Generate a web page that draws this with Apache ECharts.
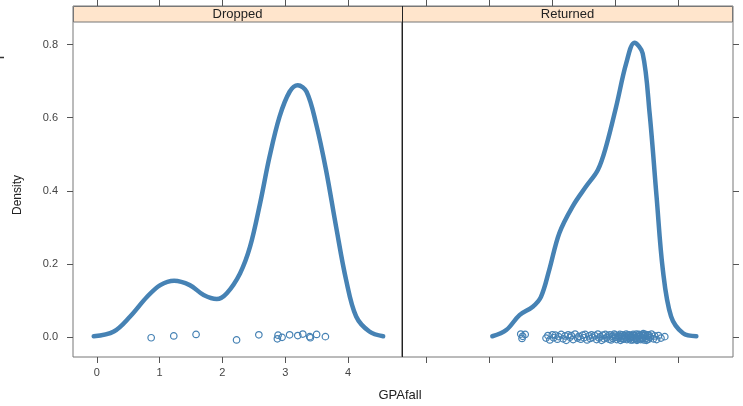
<!DOCTYPE html>
<html>
<head>
<meta charset="utf-8">
<script src="https://cdn.jsdelivr.net/npm/echarts@6/dist/echarts.min.js"></script>
<style>
  html, body { margin: 0; padding: 0; background: #fff; }
  #chart { width: 743px; height: 406px; }
</style>
</head>
<body>
<div id="chart"></div>
<script>
// Panel names (strip labels)
const panels = ['Dropped', 'Returned'];

// Axis tick values
const xTicks = [0, 1, 2, 3, 4];
const yTicks = [0, 0.2, 0.4, 0.6, 0.8];

// Kernel density estimate, Dropped group
const droppedCurveX = [-0.05, 0.27, 0.53, 0.80, 1.01, 1.23, 1.48, 1.70, 1.91, 2.07, 2.28, 2.44, 2.60, 2.75, 2.91, 3.07, 3.20, 3.34, 3.49, 3.65, 3.81, 3.97, 4.13, 4.34, 4.56];
const droppedCurveY = [0.002, 0.015, 0.056, 0.110, 0.142, 0.154, 0.142, 0.115, 0.104, 0.120, 0.174, 0.247, 0.366, 0.493, 0.603, 0.671, 0.689, 0.671, 0.585, 0.457, 0.302, 0.156, 0.056, 0.015, 0.002];

// Kernel density estimate, Returned group
const returnedCurveX = [1.05, 1.27, 1.48, 1.69, 1.82, 1.95, 2.11, 2.32, 2.53, 2.72, 2.85, 3.01, 3.17, 3.30, 3.43, 3.54, 3.65, 3.75, 3.88, 4.07, 4.28];
const returnedCurveY = [0.002, 0.019, 0.060, 0.083, 0.110, 0.183, 0.284, 0.357, 0.411, 0.457, 0.521, 0.630, 0.749, 0.805, 0.776, 0.612, 0.384, 0.183, 0.056, 0.010, 0.002];

// Observations [GPAfall, vertical jitter]
const droppedPoints = [
  [0.865, -0.002], [1.225, 0.003], [1.58, 0.007], [2.225, -0.008], [2.58, 0.006],
  [2.886, 0.005], [2.875, -0.005], [2.95, -0.001], [3.07, 0.006], [3.20, 0.004],
  [3.28, 0.008], [3.39, 0.001], [3.40, -0.002], [3.50, 0.007], [3.64, 0.001]
];
const returnedPoints = [
  [1.50,0.008],[1.52,-0.004],[1.53,0.002],[1.57,0.007],
  [1.90,-0.003],[1.93,0.004],[1.96,-0.008],[2.00,0.006],[2.02,-0.002],[2.05,0.005],[2.08,-0.006],[2.10,0.001],
  [2.14,0.007],[2.17,-0.005],[2.20,0.003],[2.22,-0.009],[2.25,0.006],[2.28,-0.001],[2.30,0.004],[2.33,-0.007],
  [2.36,0.008],[2.40,-0.003],[2.42,0.002],[2.45,-0.006],[2.48,0.005],[2.50,-0.002],[2.52,0.007],[2.55,-0.008],
  [2.58,0.003],[2.60,-0.004],[2.62,0.006],[2.64,-0.001],[2.67,0.004],[2.70,-0.007],[2.72,0.008],[2.74,-0.003],
  [2.76,0.001],[2.78,-0.009],[2.80,0.005],[2.82,-0.005],[2.84,0.007],[2.86,-0.002],[2.88,0.003],[2.90,-0.006],
  [2.91,0.006],[2.93,-0.008],[2.95,0.002],[2.96,-0.004],[2.98,0.008],[3.00,-0.001],[3.00,0.005],[3.02,-0.007],
  [3.04,0.003],[3.05,-0.003],[3.07,0.007],[3.08,-0.009],[3.10,0.001],[3.11,0.006],[3.13,-0.005],[3.14,0.004],
  [3.15,-0.002],[3.17,0.008],[3.18,-0.007],[3.20,0.002],[3.21,-0.004],[3.22,0.006],[3.24,-0.008],[3.25,0.003],
  [3.26,-0.001],[3.28,0.007],[3.29,-0.006],[3.30,0.004],[3.31,-0.003],[3.33,0.008],[3.34,-0.009],[3.35,0.001],
  [3.36,0.005],[3.38,-0.005],[3.39,0.003],[3.40,-0.007],[3.41,0.006],[3.43,-0.002],[3.44,0.004],[3.45,-0.008],
  [3.47,0.007],[3.48,-0.004],[3.50,0.002],[3.52,-0.006],[3.53,0.005],[3.55,-0.001],[3.57,0.008],[3.60,-0.005],
  [3.62,0.003],[3.65,-0.007],[3.68,0.004],[3.72,-0.003],[3.78,0.001],
  [3.06,0.002],[3.12,-0.006],[3.19,0.005],[3.23,-0.002],[3.27,0.001],[3.32,-0.005],[3.37,0.007],[3.42,-0.004],
  [3.46,0.003],[3.49,-0.009],[3.51,0.006],[3.27,-0.008],[3.16,0.000],[3.09,-0.004],[3.35,-0.006],[3.44,0.009]
];

const zip = (xs, ys) => xs.map((x, i) => [x, ys[i]]);

const FONT = 'Liberation Sans, Arial, sans-serif';
const LINE_COL = '#4682b4';
const AXIS_COL = '#555';
const X_MIN = -0.38, X_MAX = 4.86;
const Y_MIN = -0.0547, Y_MAX = 0.9056;

const chart = echarts.init(document.getElementById('chart'), null, { renderer: 'canvas' });

const tickStyle = { show: true, length: 6, lineStyle: { color: AXIS_COL, width: 1 } };

function xAxisFor(gridIndex, position, withLabels) {
  return {
    type: 'value', gridIndex, position, min: X_MIN, max: X_MAX,
    splitLine: { show: false },
    axisLine: { show: false, onZero: false },
    axisTick: Object.assign({ customValues: xTicks }, tickStyle),
    axisLabel: {
      show: withLabels, customValues: xTicks, margin: 10,
      color: '#444', fontFamily: FONT, fontSize: 11
    }
  };
}
function yAxisFor(gridIndex, position, withLabels) {
  return {
    type: 'value', gridIndex, position, min: Y_MIN, max: Y_MAX,
    splitLine: { show: false },
    axisLine: { show: false, onZero: false },
    axisTick: Object.assign({ customValues: yTicks }, tickStyle),
    axisLabel: {
      show: withLabels, customValues: yTicks, margin: 15,
      color: '#444', fontFamily: FONT, fontSize: 11,
      formatter: v => v.toFixed(1)
    }
  };
}

const pointStyle = { color: 'rgba(255,255,255,0)', borderColor: LINE_COL, borderWidth: 1.2, opacity: 1 };

const option = {
  animation: false,
  backgroundColor: '#fff',
  grid: [
    { left: 73, right: 341, top: 6, bottom: 49, show: true, borderColor: '#777', borderWidth: 1 },
    { left: 402, right: 10, top: 6, bottom: 49, show: true, borderColor: '#777', borderWidth: 1 }
  ],
  xAxis: [
    xAxisFor(0, 'bottom', true),
    xAxisFor(1, 'bottom', false),
    xAxisFor(0, 'top', false),
    xAxisFor(1, 'top', false)
  ],
  yAxis: [
    yAxisFor(0, 'left', true),
    yAxisFor(1, 'right', false)
  ],
  series: [
    {
      name: panels[0], type: 'line', xAxisIndex: 0, yAxisIndex: 0,
      data: zip(droppedCurveX, droppedCurveY), smooth: 0.35, showSymbol: false,
      lineStyle: { color: LINE_COL, width: 4.5, cap: 'round', join: 'round' }
    },
    {
      type: 'scatter', xAxisIndex: 0, yAxisIndex: 0, data: droppedPoints,
      symbol: 'circle', symbolSize: 6.5, itemStyle: pointStyle
    },
    {
      name: panels[1], type: 'line', xAxisIndex: 1, yAxisIndex: 1,
      data: zip(returnedCurveX, returnedCurveY), smooth: 0.35, showSymbol: false,
      lineStyle: { color: LINE_COL, width: 4.5, cap: 'round', join: 'round' }
    },
    {
      type: 'scatter', xAxisIndex: 1, yAxisIndex: 1, data: returnedPoints,
      symbol: 'circle', symbolSize: 6.5, itemStyle: pointStyle
    }
  ],
  graphic: [
    // strip headers
    { type: 'rect', shape: { x: 73.5, y: 6.5, width: 329, height: 15.5 },
      style: { fill: '#ffe5cc', stroke: '#777', lineWidth: 1 }, z: 10 },
    { type: 'rect', shape: { x: 402.5, y: 6.5, width: 330, height: 15.5 },
      style: { fill: '#ffe5cc', stroke: '#777', lineWidth: 1 }, z: 10 },
    { type: 'text', x: 237.5, y: 14.5, z: 11,
      style: { text: panels[0], fill: '#222', font: '13px ' + FONT, align: 'center', verticalAlign: 'middle' } },
    { type: 'text', x: 567.5, y: 14.5, z: 11,
      style: { text: panels[1], fill: '#222', font: '13px ' + FONT, align: 'center', verticalAlign: 'middle' } },
    // divider between panels
    { type: 'line', shape: { x1: 402.5, y1: 6, x2: 402.5, y2: 357 },
      style: { stroke: '#222', lineWidth: 1 }, z: 12 },
    // axis titles
    { type: 'text', x: 400, y: 395, z: 11,
      style: { text: 'GPAfall', fill: '#222', font: '13px ' + FONT, align: 'center', verticalAlign: 'middle' } },
    { type: 'text', x: 18, y: 195, rotation: Math.PI / 2, z: 11,
      style: { text: 'Density', fill: '#222', font: '12px ' + FONT, align: 'center', verticalAlign: 'middle' } },
    { type: 'line', shape: { x1: 0, y1: 57.5, x2: 4, y2: 57.5 },
      style: { stroke: '#333', lineWidth: 1.5 }, z: 11 }
  ]
};

chart.setOption(option);
</script>
</body>
</html>
